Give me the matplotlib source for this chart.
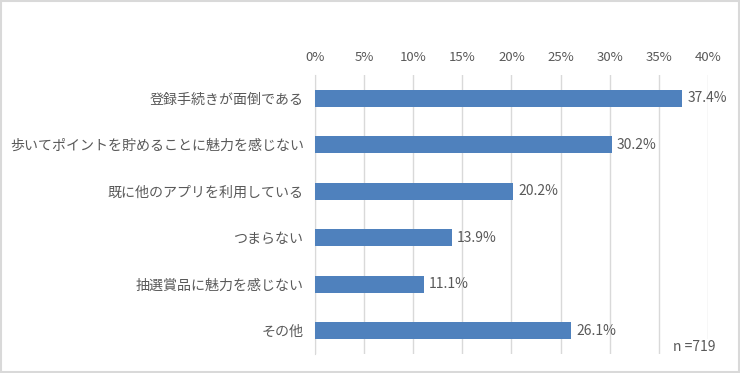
import matplotlib
matplotlib.use("Agg")
import matplotlib.pyplot as plt
from matplotlib.ticker import PercentFormatter
from matplotlib.patches import Rectangle

plt.rcParams['font.family'] = ['Noto Sans CJK JP', 'DejaVu Sans']

categories = ['登録手続きが面倒である', '歩いてポイントを貯めることに魅力を感じない',
              '既に他のアプリを利用している', 'つまらない', '抽選賞品に魅力を感じない', 'その他']
values = [37.4, 30.2, 20.2, 13.9, 11.1, 26.1]
xticks = [0, 5, 10, 15, 20, 25, 30, 35, 40]

text_color = '#595959'
grid_color = '#d9d9d9'
bar_color = '#4f81bd'

fig = plt.figure(figsize=(7.4, 3.73), dpi=100)
ax = fig.add_axes([0.4257, 0.051, 0.531, 0.748])

y = list(range(len(categories)))
ax.barh(y, values, height=0.36, color=bar_color, zorder=3)
for yi, v in zip(y, values):
    ax.text(v + 0.5, yi, f'{v:.1f}%', va='center', ha='left', fontsize=10, color=text_color)

ax.set_xlim(0, 40)
ax.set_ylim(len(categories) - 0.5, -0.5)
ax.set_xticks(xticks)
ax.xaxis.set_major_formatter(PercentFormatter(100, decimals=0))
ax.xaxis.tick_top()
ax.set_yticks(y)
ax.set_yticklabels(categories)
ax.tick_params(axis='x', length=0, labelsize=9.5, labelcolor=text_color, pad=8)
ax.tick_params(axis='y', length=0, labelsize=10.1, labelcolor=text_color, pad=8)
ax.grid(axis='x', color=grid_color, linewidth=1, zorder=0)
for s in ['top', 'right', 'bottom']:
    ax.spines[s].set_visible(False)
ax.spines['left'].set_color(grid_color)

ax.text(1.02, 0.0, 'n =719', transform=ax.transAxes, ha='right', va='bottom', fontsize=10,
        color=text_color, zorder=5, bbox=dict(facecolor='white', edgecolor='none', pad=1))

# outer frame
fig.patches.append(Rectangle((0.002, 0.003), 0.996, 0.994, transform=fig.transFigure,
                             fill=False, edgecolor='#d9d9d9', linewidth=1.5))

fig.savefig('out.png', dpi=100)
